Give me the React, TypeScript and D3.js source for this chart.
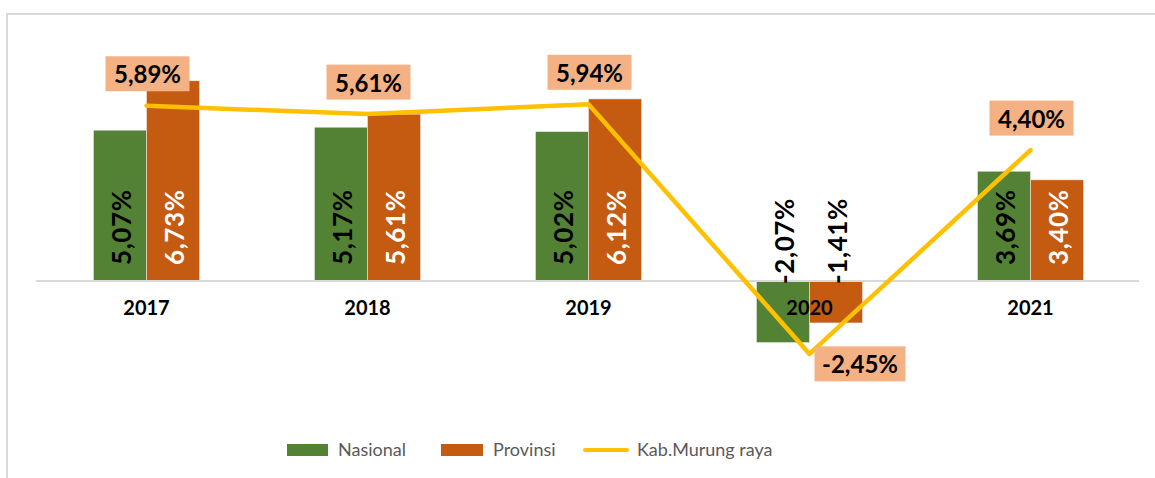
import React from "react";
import * as d3 from "d3";

const years = ["2017", "2018", "2019", "2020", "2021"];
const nasional = [5.07, 5.17, 5.02, -2.07, 3.69];
const provinsi = [6.73, 5.61, 6.12, -1.41, 3.4];
const kabupaten = [5.89, 5.61, 5.94, -2.45, 4.4];
const seriesNames = ["Nasional", "Provinsi", "Kab.Murung raya"];

const W = 1155;
const H = 478;
const GREEN = "#548235";
const ORANGE = "#C55A11";
const YELLOW = "#FFC000";
const BOX = "#F4B183";
const FONT = "Lato, 'Open Sans', sans-serif";

const fmt = (v: number) => v.toFixed(2).replace(".", ",") + "%";

export default function App() {
  const x0 = d3.scaleBand<string>().domain(years).range([36, 1141]);
  const bw = x0.bandwidth() * 0.24;
  const x1 = d3
    .scaleBand<string>()
    .domain(["Nasional", "Provinsi"])
    .range([-bw, bw]);
  const y = d3.scaleLinear().domain([-3, 7]).range([281 + 3 * 29.75, 281 - 7 * 29.75]);
  const y0 = y(0);
  const cx = (yr: string) => (x0(yr) as number) + x0.bandwidth() / 2;

  const line = d3
    .line<number>()
    .x((_, i) => cx(years[i]))
    .y((d) => y(d));

  const bars: { key: string; data: number[]; color: string; text: string }[] = [
    { key: "Nasional", data: nasional, color: GREEN, text: "#000" },
    { key: "Provinsi", data: provinsi, color: ORANGE, text: "#fff" },
  ];

  return (
    <svg
      width={W}
      height={H}
      style={{ position: "absolute", left: 0, top: 0, background: "#fff" }}
    >
      <path d={`M7,${H} L7,14 L${W},14`} fill="none" stroke="#d9d9d9" strokeWidth={2} />
      {/* bars */}
      {bars.map((s) =>
        s.data.map((v, i) => {
          const bx = cx(years[i]) + (x1(s.key) as number);
          return (
            <rect
              key={s.key + i}
              x={bx}
              y={Math.min(y(v), y0)}
              width={x1.bandwidth()}
              height={Math.abs(y(v) - y0)}
              fill={s.color}
              stroke="#e8e8e8"
              strokeWidth={0.6}
            />
          );
        })
      )}
      {/* baseline */}
      <line x1={36} x2={1139} y1={y0} y2={y0} stroke="#d9d9d9" strokeWidth={2} />
      {/* year labels */}
      {years.map((yr) => (
        <text
          key={yr}
          x={cx(yr)}
          y={315}
          textAnchor="middle"
          fontFamily={FONT}
          fontWeight="bold"
          fontSize={20}
          fill="#000"
        >
          {yr}
        </text>
      ))}
      {/* line */}
      <path
        d={line(kabupaten) as string}
        fill="none"
        stroke={YELLOW}
        strokeWidth={4.5}
        strokeLinejoin="round"
        strokeLinecap="round"
      />
      {/* bar labels */}
      {bars.map((s) =>
        s.data.map((v, i) => {
          const bx = cx(years[i]) + (x1(s.key) as number) + x1.bandwidth() / 2;
          const neg = v < 0;
          const sy = neg ? y0 + 3 : y0 - 16;
          return (
            <text
              key={"l" + s.key + i}
              transform={`translate(${bx + 1},${sy}) rotate(-90)`}
              textAnchor="start"
              dominantBaseline="central"
              fontFamily={FONT}
              fontWeight="bold"
              fontSize={26}
              letterSpacing={0.6}
              fill={neg ? "#000" : s.text}
            >
              {fmt(v)}
            </text>
          );
        })
      )}
      {/* line labels */}
      {kabupaten.map((v, i) => {
        const px = cx(years[i]);
        const py = y(v);
        const neg = v < 0;
        const bwid = neg ? 91 : 84;
        const bh = 35;
        const bcx = neg ? px + 5 + bwid / 2 : px + 1;
        const bcy = neg ? py + 10 : py - 32;
        return (
          <g key={"k" + i}>
            <rect x={bcx - bwid / 2} y={bcy - bh / 2} width={bwid} height={bh} fill={BOX} />
            <text
              x={bcx}
              y={bcy}
              textAnchor="middle"
              dominantBaseline="central"
              fontFamily={FONT}
              fontWeight="bold"
              fontSize={24}
              fill="#000"
            >
              {fmt(v)}
            </text>
          </g>
        );
      })}
      {/* legend */}
      <g fontFamily={FONT} fontSize={18} fill="#595959">
        <rect x={287} y={444} width={41} height={12} fill={GREEN} />
        <text x={338} y={456}>{seriesNames[0]}</text>
        <rect x={441} y={444} width={42} height={12} fill={ORANGE} />
        <text x={493} y={456}>{seriesNames[1]}</text>
        <line x1={585} x2={627} y1={450} y2={450} stroke={YELLOW} strokeWidth={4} strokeLinecap="round" />
        <text x={637} y={456}>{seriesNames[2]}</text>
      </g>
    </svg>
  );
}
